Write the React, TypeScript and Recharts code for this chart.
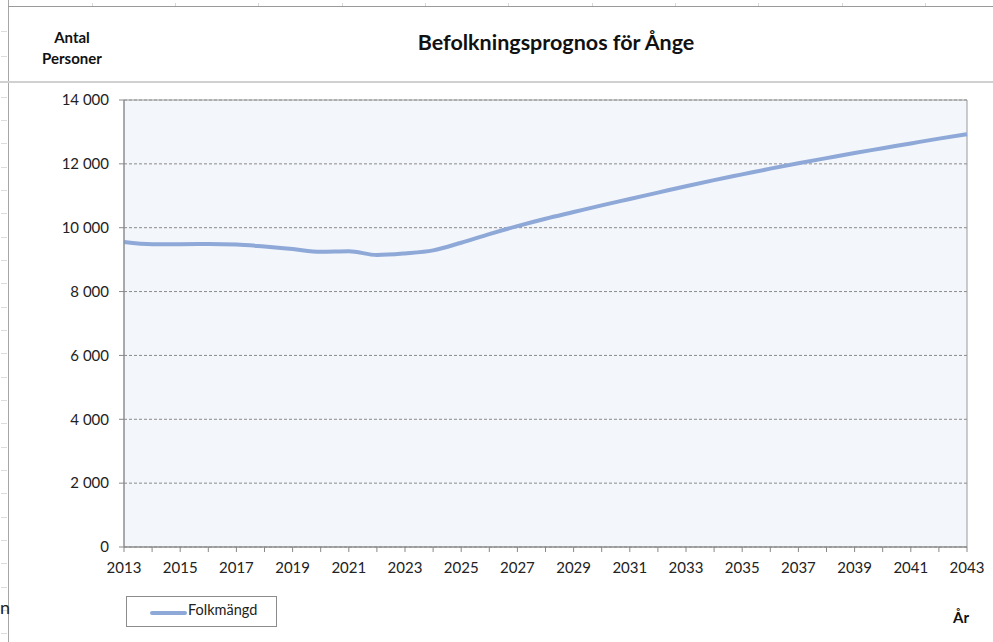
import React from "react";
import {
  LineChart,
  Line,
  XAxis,
  YAxis,
  CartesianGrid,
  ReferenceArea,
} from "recharts";

const years = [
  2013, 2014, 2015, 2016, 2017, 2018, 2019, 2020, 2021, 2022, 2023, 2024, 2025,
  2026, 2027, 2028, 2029, 2030, 2031, 2032, 2033, 2034, 2035, 2036, 2037, 2038,
  2039, 2040, 2041, 2042, 2043,
];
const folkmangd = [
  9550, 9480, 9485, 9490, 9475, 9410, 9330, 9250, 9265, 9145, 9195, 9290, 9530,
  9800, 10050, 10280, 10490, 10700, 10900, 11100, 11300, 11490, 11670, 11850,
  12020, 12180, 12340, 12490, 12640, 12790, 12930,
];
const yTicks = [0, 2000, 4000, 6000, 8000, 10000, 12000, 14000];
const seriesName = "Folkmängd";
const title = "Befolkningsprognos för Ånge";

const data = years.map((y, i) => ({ year: y, value: folkmangd[i] }));

const FONT = "Lato, 'Open Sans', sans-serif";
const fmt = (v: number) =>
  String(v).replace(/\B(?=(\d{3})+(?!\d))/g, " ");

export default function App() {
  const rowTicks: number[] = [31, 56];
  for (let y = 96.7; y < 642; y += 23.33) rowTicks.push(y);
  const colTicks: number[] = [];
  for (let x = 91.7; x < 993; x += 83.33) colTicks.push(x);

  return (
    <div
      style={{
        position: "absolute",
        left: 0,
        top: 0,
        width: 993,
        height: 642,
        background: "#ffffff",
        overflow: "hidden",
        fontFamily: FONT,
      }}
    >
      {/* spreadsheet artifacts */}
      <div style={{ position: "absolute", left: 8, top: 0, width: 1, height: 642, background: "#a6a6a6" }} />
      <div style={{ position: "absolute", left: 8, top: 6, width: 985, height: 1, background: "#9a9a9a" }} />
      <div style={{ position: "absolute", left: 0, top: 81, width: 993, height: 2, background: "#d0d0d0" }} />
      {rowTicks.map((y, i) => (
        <div key={"r" + i} style={{ position: "absolute", left: 1, top: Math.round(y), width: 6, height: 1, background: "#dcdcdc" }} />
      ))}
      {colTicks.map((x, i) => (
        <div key={"c" + i} style={{ position: "absolute", left: Math.round(x), top: 3, width: 1, height: 3, background: "#d8d8d8" }} />
      ))}
      <div style={{ position: "absolute", left: 0, top: 596, fontSize: 18, color: "#222", fontFamily: FONT }}>n</div>

      {/* texts */}
      <div style={{ position: "absolute", left: 22, width: 100, top: 27, textAlign: "center", fontWeight: 700, fontSize: 15, lineHeight: "21px", color: "#111" }}>
        Antal
        <br />
        Personer
      </div>
      <div style={{ position: "absolute", left: 256, width: 600, top: 29, textAlign: "center", fontWeight: 700, fontSize: 21.5, color: "#111" }}>
        {title}
      </div>
      <div style={{ position: "absolute", left: 930, width: 62, top: 608, textAlign: "center", fontWeight: 700, fontSize: 15, color: "#111" }}>
        År
      </div>

      {/* legend */}
      <div style={{ position: "absolute", left: 126, top: 596, width: 151, height: 31, border: "1px solid #8c8c8c", boxSizing: "border-box", background: "#fff" }}>
        <div style={{ position: "absolute", left: 23, top: 14, width: 37, height: 4, borderRadius: 2, background: "#8EA8D8" }} />
        <div style={{ position: "absolute", left: 61, top: 4, fontSize: 14.5, color: "#222" }}>{seriesName}</div>
      </div>

      <div style={{ position: "absolute", left: 0, top: 0 }}>
        <LineChart
          width={993}
          height={642}
          data={data}
          margin={{ top: 100, right: 26, left: 0, bottom: 0 }}
        >
          <CartesianGrid
            vertical={false}
            horizontal={true}
            stroke="#8a8a8a"
            strokeDasharray="3 2"
            fill="#F3F6FB"
          />
          <XAxis
            dataKey="year"
            type="number"
            domain={[2013, 2043]}
            ticks={years}
            interval={0}
            tickFormatter={(v: number) => ((v - 2013) % 2 === 0 ? String(v) : "")}
            tick={{ fill: "#222", fontSize: 15, fontFamily: FONT }}
            tickLine={{ stroke: "#888" }}
            axisLine={{ stroke: "#888" }}
            tickSize={5}
            tickMargin={10}
            height={95}
          />
          <YAxis
            type="number"
            domain={[0, 14000]}
            ticks={yTicks}
            interval={0}
            tickFormatter={fmt}
            tick={{ fill: "#222", fontSize: 15, fontFamily: FONT }}
            tickLine={{ stroke: "#888" }}
            axisLine={{ stroke: "#888" }}
            tickSize={5}
            tickMargin={10}
            width={124}
          />
          <ReferenceArea
            x1={2013}
            x2={2043}
            y1={0}
            y2={14000}
            fill="none"
            stroke="#999"
            strokeWidth={1}
            ifOverflow="visible"
          />
          <Line
            type="monotone"
            dataKey="value"
            name={seriesName}
            stroke="#8EA8D8"
            strokeWidth={4}
            dot={false}
            activeDot={false}
            isAnimationActive={false}
          />
        </LineChart>
      </div>
    </div>
  );
}
